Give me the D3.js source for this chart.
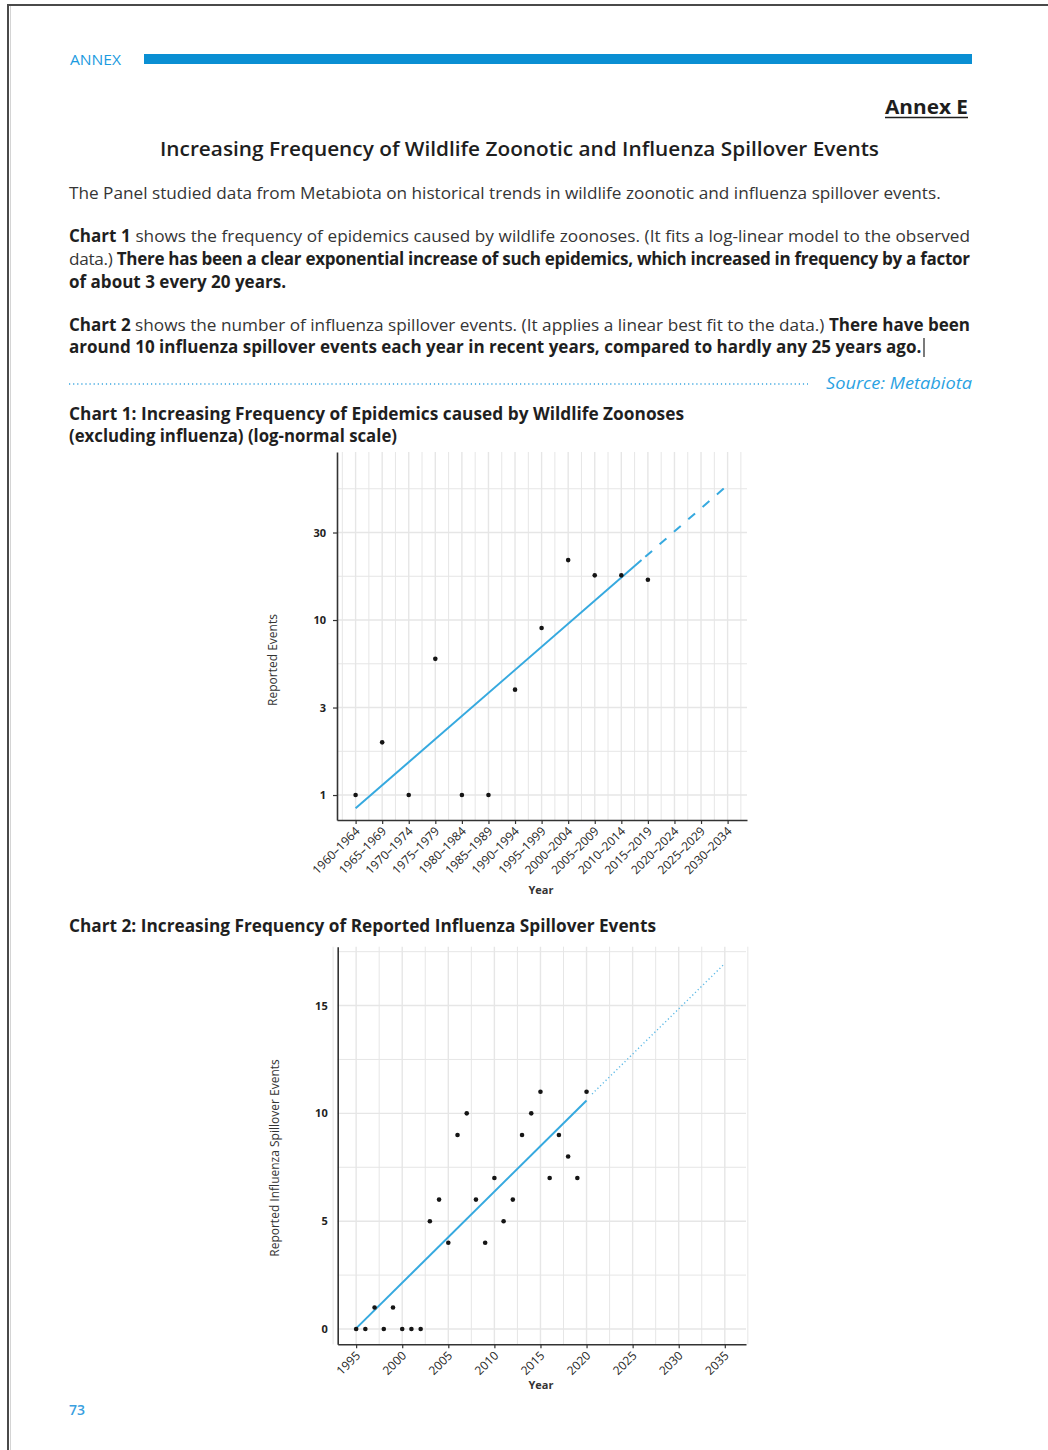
<!DOCTYPE html>
<html>
<head>
<meta charset="utf-8">
<script src="https://cdn.jsdelivr.net/npm/d3@7"></script>
<style>
  html, body { margin: 0; padding: 0; background: #fff; }
  svg { display: block; }
</style>
</head>
<body>
<svg id="page" width="1048" height="1450"></svg>
<script>
// ---- Chart 1: wildlife zoonotic epidemics per five-year period ----
const periods = ["1960–1964", "1965–1969", "1970–1974", "1975–1979", "1980–1984",
  "1985–1989", "1990–1994", "1995–1999", "2000–2004", "2005–2009", "2010–2014",
  "2015–2019", "2020–2024", "2025–2029", "2030–2034"];
const epidemicCounts = [1, 2, 1, 6, 1, 1, 4, 9, 22, 18, 18, 17];
const logTickValues = [1, 3.162, 10, 31.62];
const logTickLabels = ["1", "3", "10", "30"];
const logMinorGrid = [1.778, 5.623, 17.78, 56.23];
// log-linear fit: period index -> events (observed span, then projection)
const fitIndex = [0, 10.76];
const fitEvents = [0.84, 22.0];
const projIndex = [10.76, 14];
const projEvents = [22.0, 59];

// ---- Chart 2: reported influenza spillover events per year ----
const spillYears = [1995, 1996, 1997, 1998, 1999, 2000, 2001, 2002, 2003, 2004, 2005,
  2006, 2007, 2008, 2009, 2010, 2011, 2012, 2013, 2014, 2015, 2016, 2017, 2018, 2019, 2020];
const spillCounts = [0, 0, 1, 0, 1, 0, 0, 0, 5, 6, 4, 9, 10, 6, 4, 7, 5, 6, 9, 10, 11, 7, 9, 8, 7, 11];
const spillTicks = [0, 5, 10, 15];
const spillMinorGrid = [2.5, 7.5, 12.5, 17.5];
const yearTicks = [1995, 2000, 2005, 2010, 2015, 2020, 2025, 2030, 2035];
// linear best fit (observed span, then projection)
const lineYears = [1995, 2020];
const lineCounts = [0.03, 10.6];
const lineProjYears = [2020.6, 2035];
const lineProjCounts = [10.9, 16.95];

const FONT = "'Open Sans', 'Noto Sans', sans-serif";
const BLUE = "#0a8fd3";
const INK = "#2b2b2b";

const svg = d3.select("#page");

// page frame
svg.append("line").attr("x1", 7).attr("y1", 5).attr("x2", 1048).attr("y2", 5)
  .attr("stroke", "#4a4a4a").attr("stroke-width", 2);
svg.append("line").attr("x1", 8).attr("y1", 4).attr("x2", 8).attr("y2", 1450)
  .attr("stroke", "#4a4a4a").attr("stroke-width", 2);
svg.append("line").attr("x1", 10.5).attr("y1", 6).attr("x2", 10.5).attr("y2", 1450)
  .attr("stroke", "#d4d4d4").attr("stroke-width", 1);

// running header
svg.append("text").attr("x", 70).attr("y", 65).text("ANNEX")
  .attr("font-family", FONT).attr("font-size", 14).attr("fill", "#1b9be0")
  .attr("textLength", 51).attr("lengthAdjust", "spacingAndGlyphs");
svg.append("rect").attr("x", 144).attr("y", 54).attr("width", 828).attr("height", 10)
  .attr("fill", BLUE);

svg.append("text").attr("x", 968).attr("y", 114).text("Annex E")
  .attr("font-family", FONT).attr("font-size", 20).attr("font-weight", 700)
  .attr("fill", "#1e1e1e").attr("text-anchor", "end")
  .attr("textLength", 83).attr("lengthAdjust", "spacingAndGlyphs");
svg.append("line").attr("x1", 885).attr("x2", 968).attr("y1", 117.5).attr("y2", 117.5)
  .attr("stroke", "#1e1e1e").attr("stroke-width", 1.6);

svg.append("text").attr("x", 160).attr("y", 156)
  .text("Increasing Frequency of Wildlife Zoonotic and Influenza Spillover Events")
  .attr("font-family", FONT).attr("font-size", 20.5).attr("font-weight", 600)
  .attr("fill", "#1e1e1e")
  .attr("textLength", 719).attr("lengthAdjust", "spacingAndGlyphs");

// ---- body text ----
function textLine(x, y, segments) {
  const t = svg.append("text").attr("x", x).attr("y", y)
    .attr("font-family", FONT).attr("fill", INK);
  segments.forEach(([s, bold]) => {
    t.append("tspan").text(s).attr("font-weight", bold ? 700 : 400)
      .attr("fill", bold ? "#1f1f1f" : "#353535")
      .attr("class", bold ? "b" : "r");
  });
  return t;
}

const bodyLines = [
  { y: 199, seg: [["The Panel studied data from Metabiota on historical trends in wildlife zoonotic and influenza spillover events.", false]] },
  { y: 242, seg: [["Chart 1", true], [" shows the frequency of epidemics caused by wildlife zoonoses. (It fits a log-linear model to the observed", false]], justify: 901 },
  { y: 265, seg: [["data.) ", false], ["There has been a clear exponential increase of such epidemics, which increased in frequency by a factor", true]], justify: 901 },
  { y: 288, seg: [["of about 3 every 20 years.", true]] },
  { y: 331, seg: [["Chart 2", true], [" shows the number of influenza spillover events. (It applies a linear best fit to the data.) ", false], ["There have been", true]], justify: 901 },
  { y: 353, seg: [["around 10 influenza spillover events each year in recent years, compared to hardly any 25 years ago.", true]] }
];
const bodyEls = bodyLines.map(l => textLine(69, l.y, l.seg));
bodyEls.forEach(t => t.selectAll("tspan").attr("font-size", 16));

// size regular text from the first line, bold text from the last line
const regW = bodyEls[0].node().getComputedTextLength();
const boldW = bodyEls[5].node().getComputedTextLength();
const regSize = 16 * 872 / regW;
const boldSize = 16 * 853 / boldW;
bodyEls.forEach(t => {
  t.selectAll("tspan.r").attr("font-size", regSize);
  t.selectAll("tspan.b").attr("font-size", boldSize);
});
// justified lines: widen word gaps, or tighten letters when the line runs long
bodyLines.forEach((l, i) => {
  if (!l.justify) return;
  const t = bodyEls[i];
  const str = l.seg.map(s => s[0]).join("");
  const w = t.node().getComputedTextLength();
  if (w <= l.justify) {
    const spaces = str.split(" ").length - 1;
    t.attr("word-spacing", (l.justify - w) / spaces);
  } else {
    t.attr("letter-spacing", (l.justify - w) / (str.length - 1));
  }
});

// text cursor after the last sentence
svg.append("line").attr("x1", 924).attr("x2", 924).attr("y1", 338).attr("y2", 357)
  .attr("stroke", "#222").attr("stroke-width", 1.2);

// source rule
svg.append("line").attr("x1", 69).attr("x2", 808).attr("y1", 384).attr("y2", 384)
  .attr("stroke", "#3aa6e0").attr("stroke-width", 1.3)
  .attr("stroke-dasharray", "1.2,2.9");
svg.append("text").attr("x", 972).attr("y", 389).text("Source: Metabiota")
  .attr("font-family", FONT).attr("font-style", "italic").attr("font-size", 16.5)
  .attr("fill", "#2ba2e2").attr("text-anchor", "end")
  .attr("textLength", 146).attr("lengthAdjust", "spacingAndGlyphs");

function heading(x, y, s, w) {
  svg.append("text").attr("x", x).attr("y", y).text(s)
    .attr("font-family", FONT).attr("font-weight", 700).attr("font-size", boldSize)
    .attr("fill", "#1f1f1f").attr("textLength", w).attr("lengthAdjust", "spacingAndGlyphs");
}
heading(69, 420, "Chart 1: Increasing Frequency of Epidemics caused by Wildlife Zoonoses", 615);
heading(69, 442, "(excluding influenza) (log-normal scale)", 328);
heading(69, 932, "Chart 2: Increasing Frequency of Reported Influenza Spillover Events", 587);

svg.append("text").attr("x", 69).attr("y", 1415).text("73")
  .attr("font-family", FONT).attr("font-weight", 600).attr("font-size", 14)
  .attr("fill", "#3a9fe0");

// ---- shared chart helpers ----
const GRID = "#e6e6e6";
const FIT = "#36a9df";

function styleAxis(g) {
  g.select(".domain").attr("stroke", "#333").attr("stroke-width", 1.6);
  g.selectAll(".tick line").attr("stroke", "#333").attr("stroke-width", 1.2);
  g.selectAll(".tick text").attr("fill", "#222").attr("font-family", FONT);
}

function drawPanel(cfg) {
  const { x, y, left, right, top, bottom } = cfg;
  const g = svg.append("g");
  g.selectAll("line.vmin").data(cfg.vMinor).join("line")
    .attr("x1", d => x(d)).attr("x2", d => x(d)).attr("y1", top).attr("y2", bottom)
    .attr("stroke", GRID).attr("stroke-width", 1);
  g.selectAll("line.vmaj").data(cfg.vMajor).join("line")
    .attr("x1", d => x(d)).attr("x2", d => x(d)).attr("y1", top).attr("y2", bottom)
    .attr("stroke", GRID).attr("stroke-width", 1.4);
  g.selectAll("line.hmin").data(cfg.hMinor).join("line")
    .attr("y1", d => y(d)).attr("y2", d => y(d)).attr("x1", left).attr("x2", right)
    .attr("stroke", GRID).attr("stroke-width", 1);
  g.selectAll("line.hmaj").data(cfg.hMajor).join("line")
    .attr("y1", d => y(d)).attr("y2", d => y(d)).attr("x1", left).attr("x2", right)
    .attr("stroke", GRID).attr("stroke-width", 1.4);
  return g;
}

function rotateLabels(axisG) {
  axisG.selectAll(".tick text").attr("font-size", 12).attr("fill", "#262626")
    .attr("text-anchor", "end").attr("dx", "-0.45em").attr("dy", "0.3em")
    .attr("transform", "rotate(-45)");
}

// ---- Chart 1 ----
{
  const left = 337, right = 747, top = 452, bottom = 820;
  const x = d3.scaleLinear().domain([-0.7, 14.73]).range([left, right]);
  const y = d3.scaleLog().domain([0.72, 91.2]).range([bottom, top]);
  const idx = periods.map((p, i) => i);
  const g = drawPanel({
    x, y, left, right, top, bottom,
    vMajor: idx, vMinor: [-0.5].concat(idx.map(i => i + 0.5)),
    hMajor: logTickValues, hMinor: logMinorGrid
  });

  const fitLine = d3.line().x(d => x(d[0])).y(d => y(d[1]));
  g.append("path").datum(d3.zip(fitIndex, fitEvents)).attr("d", fitLine)
    .attr("fill", "none").attr("stroke", FIT).attr("stroke-width", 2);
  g.append("path").datum(d3.zip(projIndex, projEvents)).attr("d", fitLine)
    .attr("fill", "none").attr("stroke", FIT).attr("stroke-width", 2)
    .attr("stroke-dasharray", "0 5 9 5");

  g.selectAll("circle").data(epidemicCounts).join("circle")
    .attr("cx", (d, i) => x(i)).attr("cy", d => y(d)).attr("r", 2.3).attr("fill", "#151515");

  const ya = svg.append("g").attr("transform", `translate(${left},0)`)
    .call(d3.axisLeft(y).tickValues(logTickValues).tickFormat((d, i) => logTickLabels[i])
      .tickSize(4).tickSizeOuter(0).tickPadding(7));
  styleAxis(ya);
  ya.selectAll(".tick text").attr("font-size", 11).attr("font-weight", 700);

  const xa = svg.append("g").attr("transform", `translate(0,${bottom})`)
    .call(d3.axisBottom(x).tickValues(idx).tickFormat(i => periods[i])
      .tickSize(4).tickSizeOuter(0).tickPadding(4));
  styleAxis(xa);
  rotateLabels(xa);

  svg.append("text").attr("transform", "translate(277,660) rotate(-90)")
    .attr("text-anchor", "middle").text("Reported Events")
    .attr("font-family", FONT).attr("font-size", 12).attr("fill", "#333");
  svg.append("text").attr("x", 541).attr("y", 894).attr("text-anchor", "middle")
    .text("Year").attr("font-family", FONT).attr("font-size", 11).attr("font-weight", 700)
    .attr("fill", "#333");
}

// ---- Chart 2 ----
{
  const left = 337.7, right = 746, top = 946.7, bottom = 1344.3;
  const x = d3.scaleLinear().domain([1993, 2037.3]).range([left, right]);
  const y = d3.scaleLinear().domain([-0.71, 17.73]).range([bottom, top]);
  const g = drawPanel({
    x, y, left, right, top, bottom,
    vMajor: yearTicks, vMinor: yearTicks.map(t => t + 2.5).concat([1992.5]),
    hMajor: spillTicks, hMinor: spillMinorGrid
  });

  const fitLine = d3.line().x(d => x(d[0])).y(d => y(d[1]));
  g.append("path").datum(d3.zip(lineYears, lineCounts)).attr("d", fitLine)
    .attr("fill", "none").attr("stroke", FIT).attr("stroke-width", 2);
  g.append("path").datum(d3.zip(lineProjYears, lineProjCounts)).attr("d", fitLine)
    .attr("fill", "none").attr("stroke", "#5cb9e6").attr("stroke-width", 1.4)
    .attr("stroke-dasharray", "1.2,2.6");

  g.selectAll("circle").data(spillCounts).join("circle")
    .attr("cx", (d, i) => x(spillYears[i])).attr("cy", d => y(d)).attr("r", 2.3)
    .attr("fill", "#151515");

  const ya = svg.append("g").attr("transform", `translate(${left},0)`)
    .call(d3.axisLeft(y).tickValues(spillTicks).tickSize(0).tickSizeOuter(0).tickPadding(10));
  styleAxis(ya);
  ya.selectAll(".tick text").attr("font-size", 11).attr("font-weight", 700);

  const xa = svg.append("g").attr("transform", `translate(0,${bottom})`)
    .call(d3.axisBottom(x).tickValues(yearTicks).tickFormat(d3.format("d"))
      .tickSize(4).tickSizeOuter(0).tickPadding(4));
  styleAxis(xa);
  rotateLabels(xa);

  svg.append("text").attr("transform", "translate(279,1158) rotate(-90)")
    .attr("text-anchor", "middle").text("Reported Influenza Spillover Events")
    .attr("font-family", FONT).attr("font-size", 12).attr("fill", "#333");
  svg.append("text").attr("x", 541).attr("y", 1389).attr("text-anchor", "middle")
    .text("Year").attr("font-family", FONT).attr("font-size", 11).attr("font-weight", 700)
    .attr("fill", "#333");
}
</script>
</body>
</html>
